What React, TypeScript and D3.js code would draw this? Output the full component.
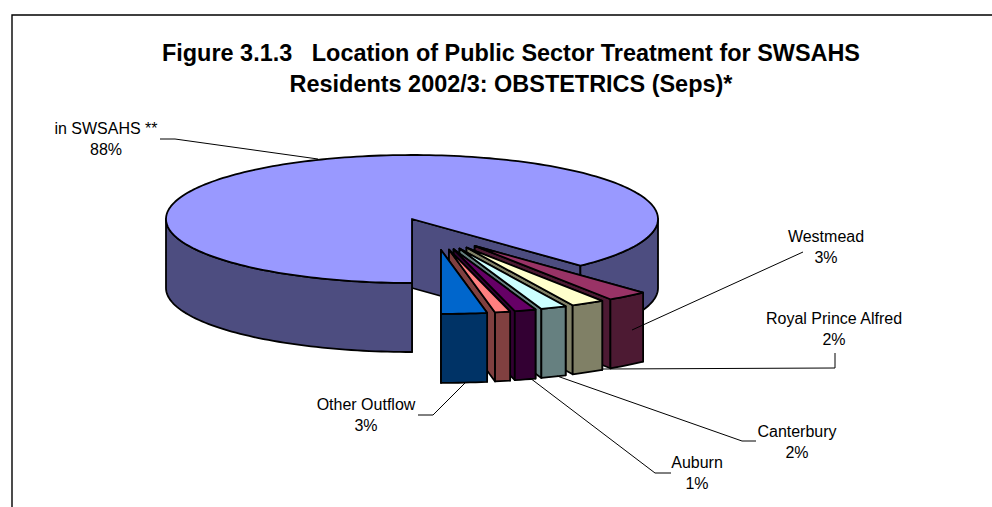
import React, { useEffect, useRef } from "react";
import * as d3 from "d3";

const sliceNames = ["Other Outflow", "(unlabelled)", "Auburn", "Canterbury", "Royal Prince Alfred", "Westmead", "in SWSAHS **"];
const sliceValues = [3.0, 1.0, 1.4, 1.7, 2.2, 2.7, 88.0];
const topColors = ["#0066cc", "#ff8080", "#660066", "#ccffff", "#ffffcc", "#993366", "#9999ff"];
const sideColors = ["#003366", "#804040", "#330033", "#668080", "#808066", "#4d1a33", "#4d4d80"];
const titleLines = ["Figure 3.1.3   Location of Public Sector Treatment for SWSAHS", "Residents 2002/3: OBSTETRICS (Seps)*"];

// label text, centre x, first baseline y, leader polyline
const labels: [string, string, number, number, [number, number][]][] = [
    ["in SWSAHS **", "88%", 106, 134, [[160, 139], [175, 139], [318, 159]]],
    ["Westmead", "3%", 826, 242, [[632, 330], [803, 252]]],
    ["Royal Prince Alfred", "2%", 834, 324, [[835, 353], [835, 368], [603, 369]]],
    ["Canterbury", "2%", 797, 437, [[756, 441], [742, 441], [557, 376]]],
    ["Auburn", "1%", 697, 468, [[671, 473], [655, 473], [530, 378]]],
    ["Other Outflow", "3%", 366, 410, [[418, 415], [433, 415], [466, 382]]],
];

const cx = 412;
const cy = 219;
const rx = 246;
const ry = 64;
const depth = 69;

export default function App() {
    const ref = useRef<SVGSVGElement>(null);

    useEffect(() => {
        const svg = d3.select(ref.current);
        svg.selectAll("*").remove();

        // frame runs off the right and bottom of the picture
        svg.append("path")
            .attr("d", "M992,15H12V507")
            .attr("fill", "none")
            .attr("stroke", "#000")
            .attr("stroke-width", 1.4);

        // angle 0 is straight down, growing towards the right of the page
        const arcs = d3
            .pie<number>()
            .sort(null)
            .value((d) => d)(sliceValues);

        const x = d3.scaleLinear().domain([-1, 1]).range([cx - rx, cx + rx]);
        const y = d3.scaleLinear().domain([-1, 1]).range([cy - ry, cy + ry]);
        const line = d3.line();

        const arcPts = (ox: number, oy: number, a0: number, a1: number): [number, number][] => {
            const n = Math.max(2, Math.ceil(Math.abs(a1 - a0) * 40));
            return d3.range(n + 1).map((i) => {
                const a = a0 + ((a1 - a0) * i) / n;
                return [x(Math.sin(a)) + ox, y(Math.cos(a)) + oy] as [number, number];
            });
        };

        const drawSlice = (i: number, ox: number, oy: number) => {
            const { startAngle: a0, endAngle: a1 } = arcs[i];
            const apex: [number, number] = [cx + ox, cy + oy];
            const low = (p: [number, number]): [number, number] => [p[0], p[1] + depth];
            const g = svg.append("g").attr("stroke", "#000").attr("stroke-width", 1.8).attr("stroke-linejoin", "round");
            const side = (pts: [number, number][]) =>
                g.append("path").attr("d", line(pts) + "Z").attr("fill", sideColors[i]);

            // cut faces first, then the curved wall, then the top
            [a1, a0].forEach((a) => {
                const p = arcPts(ox, oy, a, a)[0];
                side([apex, p, low(p), low(apex)]);
            });
            // only the part of the rim facing the viewer has a wall
            const walls: [number, number][] = a1 <= Math.PI / 2
                ? [[a0, a1]]
                : [[a0, Math.PI / 2], [(3 * Math.PI) / 2, a1]];
            walls.forEach(([w0, w1]) => {
                const rim = arcPts(ox, oy, w0, w1);
                side([...rim, ...rim.map(low).reverse()]);
            });
            g.append("path")
                .attr("d", line([apex, ...arcPts(ox, oy, a0, a1)]) + "Z")
                .attr("fill", topColors[i]);
        };

        // big slice stays put, the rest are pulled out, back ones painted first
        drawSlice(6, 0, 0);
        d3.range(5, -1, -1).forEach((i) => {
            const mid = (arcs[i].startAngle + arcs[i].endAngle) / 2;
            drawSlice(i, 23 + 64 * Math.sin(mid), 12 + 19 * Math.cos(mid));
        });

        labels.forEach(([name, pct, lx, ly, leader]) => {
            svg.append("path")
                .attr("d", line(leader))
                .attr("fill", "none")
                .attr("stroke", "#000")
                .attr("stroke-width", 1);
            [name, pct].forEach((t, j) => {
                svg.append("text")
                    .attr("x", lx)
                    .attr("y", ly + j * 21)
                    .attr("text-anchor", "middle")
                    .attr("font-family", "'Liberation Sans', Arial, sans-serif")
                    .attr("font-size", 16)
                    .attr("fill", "#000")
                    .text(t);
            });
        });

        titleLines.forEach((t, j) => {
            svg.append("text")
                .attr("x", 511)
                .attr("y", 61 + j * 31)
                .attr("text-anchor", "middle")
                .attr("font-family", "'Liberation Sans', Arial, sans-serif")
                .attr("font-size", 23.45)
                .attr("font-weight", "bold")
                .attr("fill", "#000")
                .attr("xml:space", "preserve")
                .style("white-space", "pre")
                .text(t);
        });
    }, []);

    return (
        <svg
            ref={ref}
            width={992}
            height={507}
            style={{ position: "absolute", left: 0, top: 0, background: "#fff" }}
        ></svg>
    );
}
